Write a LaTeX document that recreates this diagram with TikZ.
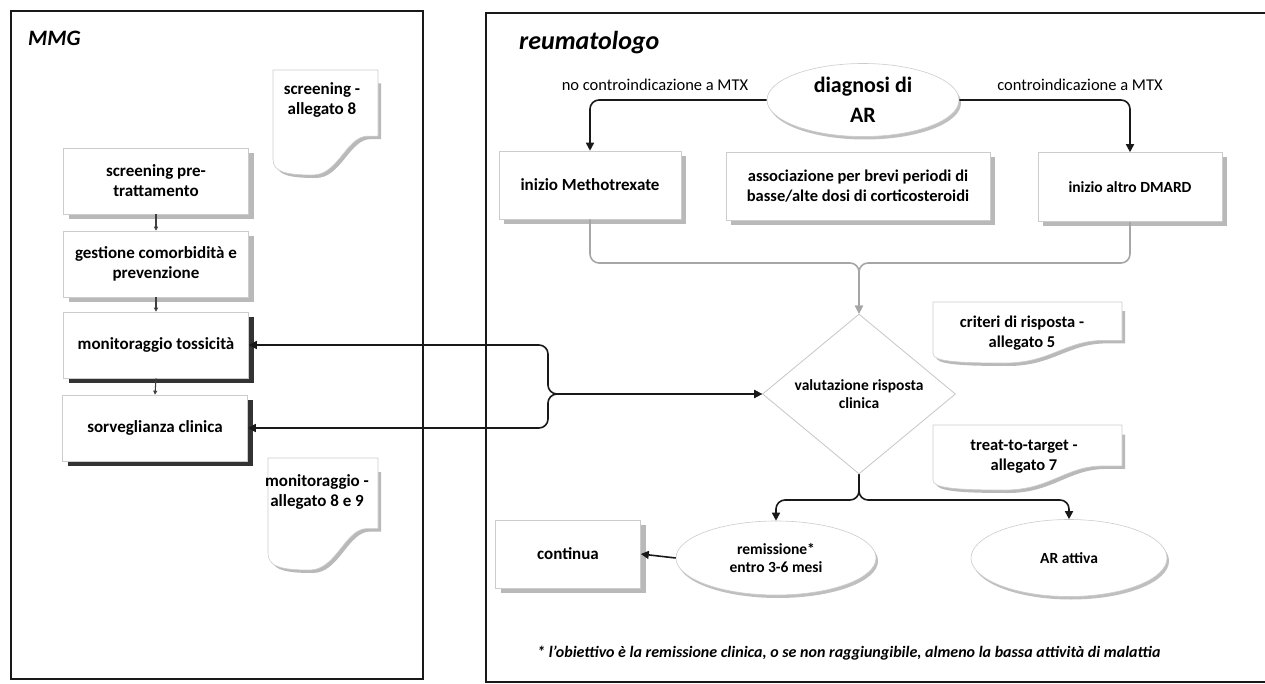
\documentclass[tikz,border=0pt]{standalone}
\usepackage{fontspec}
\setmainfont{Carlito}
\usetikzlibrary{arrows.meta,shapes.geometric,shadows}

% document-shaped note: #1,#2 top-left corner, #3,#4 bottom-right corner
\newcommand{\docshape}[4]{%
  \begin{scope}[shift={({#1+3},{#2+3})}, xscale={#3-#1}, yscale={#4-#2}]
    \fill[gray!55] (0,0.1) -- (1,0.1) -- (1,0.63) -- (0.9,0.63)
      .. controls (0.7,0.63) and (0.62,1) .. (0.38,1)
      .. controls (0.12,1) and (0,0.97) .. (0,0.85) -- cycle;
  \end{scope}
  \begin{scope}[shift={(#1,#2)}, xscale={#3-#1}, yscale={#4-#2}]
    \filldraw[fill=white, draw=gray!40, line width=0.6pt]
      (0,0) -- (1,0) -- (1,0.63) -- (0.9,0.63)
      .. controls (0.7,0.63) and (0.62,1) .. (0.38,1)
      .. controls (0.12,1) and (0,0.97) .. (0,0.85) -- cycle;
  \end{scope}}

\begin{document}
\begin{tikzpicture}[x=1pt,y=-1pt,
  lbl/.style={font=\fontsize{17}{20}\selectfont\bfseries, align=center, inner sep=1pt},
  mid/.style={font=\fontsize{15.5}{18}\selectfont\bfseries},
  boxbase/.style={lbl, draw=gray!40, line width=0.6pt, fill=white},
  box/.style={boxbase, drop shadow={shadow xshift=5pt, shadow yshift=-5pt, fill=gray!55, opacity=1}},
  darkbox/.style={boxbase, drop shadow={shadow xshift=5pt, shadow yshift=-5pt, fill=black!80, opacity=1}},
  oval/.style={lbl, ellipse, draw=gray!40, line width=0.6pt, fill=white, inner sep=0pt,
    drop shadow={shadow xshift=2pt, shadow yshift=-3pt, fill=gray!50, opacity=1}},
  decision/.style={lbl, diamond, draw=gray!45, line width=0.8pt, fill=white, inner sep=0pt},
  note/.style={lbl, inner sep=0pt},
  cond/.style={font=\fontsize{16.5}{18}\selectfont, inner sep=0pt},
  title/.style={font=\fontsize{22}{26}\selectfont\bfseries\itshape, inner sep=0pt, anchor=west},
  panel/.style={line width=1.1pt, draw=black!90},
  conn/.style={line width=1.6pt, draw=black!90, rounded corners=9pt},
  graycon/.style={line width=1.6pt, draw=gray!70, rounded corners=9pt},
  arr/.style={-{Triangle[length=8pt,width=8pt]}},
  arrboth/.style={{Triangle[length=8pt,width=8pt]}-{Triangle[length=8pt,width=8pt]}},
  smallarr/.style={line width=1.1pt, draw=black!75, -{Triangle[length=4pt,width=4pt]}}]

\useasboundingbox (0,0) rectangle (1265,684);

% two swim-lane frames
\draw[panel] (11,11) rectangle (423,679);
\draw[panel] (1266,13) -- (486,13) -- (486,682) -- (1266,682);

\node[title] (mmg) at (28,38) {MMG};
\node[title, font=\fontsize{26}{30}\selectfont\bfseries\itshape] (reum) at (519,43) {reumatologo};

% notes (document shapes)
\docshape{273}{70}{378}{175}
\docshape{268}{458}{378}{570}
\docshape{933}{302}{1122}{363}
\docshape{933}{425}{1122}{490}
\node[note] (n1) at (322,100) {screening -\\allegato 8};
\node[note] (n2) at (317,492) {monitoraggio -\\allegato 8 e 9};
\node[note, font=\fontsize{16.5}{20}\selectfont\bfseries] (n3) at (1022,333) {criteri di risposta -\\allegato 5};
\node[note, font=\fontsize{16.5}{20}\selectfont\bfseries] (n4) at (1024,457) {treat-to-target -\\allegato 7};

% general practitioner column
\node[box, minimum width=185pt, minimum height=66pt] (b1) at (156,181) {screening pre-\\trattamento};
\node[box, minimum width=185pt, minimum height=66pt] (b2) at (156,264) {gestione comorbidità e\\prevenzione};
\node[darkbox, minimum width=185pt, minimum height=66pt] (b3) at (156,345) {monitoraggio tossicità};
\node[darkbox, minimum width=185pt, minimum height=66pt] (b4) at (155,428) {sorveglianza clinica};

\draw[smallarr] (b1.south) -- (b2.north);
\draw[smallarr] (b2.south) -- (b3.north);
\draw[smallarr] (b3.south) -- (b4.north);

% rheumatologist column
\node[oval, minimum width=192pt, minimum height=73pt, font=\fontsize{22}{30}\selectfont\bfseries] (diag) at (863,100) {diagnosi di\\AR};
\node[cond] (cl) at (655,85) {no controindicazione a MTX};
\node[cond] (cr) at (1080,85) {controindicazione a MTX};

\node[box, minimum width=182pt, minimum height=68pt] (meth) at (590,185) {inizio Methotrexate};
\node[box, minimum width=264pt, minimum height=68pt, font=\fontsize{16.5}{20}\selectfont\bfseries] (assoc) at (858,186) {associazione per brevi periodi di\\basse/alte dosi di corticosteroidi};
\node[box, mid, minimum width=184pt, minimum height=69pt] (dmard) at (1130,187) {inizio altro DMARD};

\node[decision, mid, minimum width=193pt, minimum height=160pt] (dia) at (859,394) {valutazione risposta\\clinica};

\node[oval, mid, minimum width=200pt, minimum height=74pt] (rem) at (776,558) {remissione*\\entro 3-6 mesi};
\node[oval, mid, minimum width=196pt, minimum height=77pt] (act) at (1069,558) {AR attiva};
\node[box, minimum width=145pt, minimum height=68pt] (cont) at (568,554) {continua};

\node[font=\fontsize{16}{18}\selectfont\bfseries\itshape, anchor=west, inner sep=0pt] (foot) at (537,653)
  {* l'obiettivo è la remissione clinica, o se non raggiungibile, almeno la bassa attività di malattia};

% junction points of the braces
\coordinate (bt) at (859,263);
\coordinate (lb) at (548,394);
\coordinate (bb) at (859,500);

% connectors
\draw[conn, arr] (diag.west) -| (meth.north);
\draw[conn, arr] (diag.east) -| (dmard.north);

\draw[graycon, arr] (meth.south) |- (bt) -- (dia.north);
\draw[graycon, arr] (dmard.south) |- (bt) -- (dia.north);

\draw[conn, arrboth] (b3.east) -| (lb) -- (dia.west);
\draw[conn, arrboth] (b4.east) -| (lb) -- (dia.west);

\draw[conn, arr] (dia.south) -- (bb) -| (rem.north);
\draw[conn, arr] (dia.south) -- (bb) -| (act.north);

\draw[conn, arr] (rem.west) -- (cont.east);
\end{tikzpicture}
\end{document}
